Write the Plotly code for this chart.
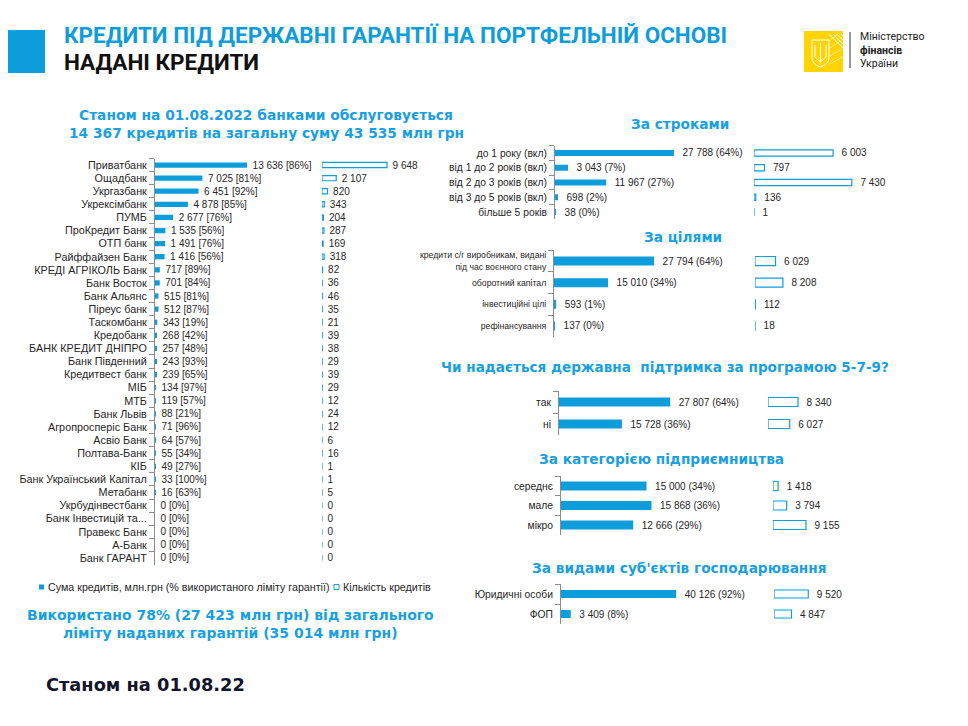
import plotly.graph_objects as go

# page offset (body margin) compensation: figure is placed at (8, 8) in the page
OFF = 8
W, H = 968 - 2 * OFF, 726 - 2 * OFF
BLUE = "#0d9ddb"
TBLUE = "#1a9fe0"
GRAY = "#8c8c8c"
TXT = "#262626"

# ---------------- data ----------------
banks = ["Приватбанк", "Ощадбанк", "Укргазбанк", "Укрексімбанк", "ПУМБ", "ПроКредит Банк",
         "ОТП банк", "Райффайзен Банк", "КРЕДІ АГРІКОЛЬ Банк", "Банк Восток", "Банк Альянс",
         "Піреус банк", "Таскомбанк", "Кредобанк", "БАНК КРЕДИТ ДНІПРО", "Банк Південний",
         "Кредитвест банк", "МІБ", "МТБ", "Банк Львів", "Агропросперіс Банк", "Асвіо Банк",
         "Полтава-Банк", "КІБ", "Банк Український Капітал", "Метабанк", "Укрбудінвестбанк",
         "Банк Інвестицій та...", "Правекс Банк", "А-Банк", "Банк ГАРАНТ"]
bank_sum = [13636, 7025, 6451, 4878, 2677, 1535, 1491, 1416, 717, 701, 515, 512, 343, 268, 257,
            243, 239, 134, 119, 88, 71, 64, 55, 49, 33, 16, 0, 0, 0, 0, 0]
bank_pct = [86, 81, 92, 85, 76, 56, 76, 56, 89, 84, 81, 87, 19, 42, 48, 93, 65, 97, 57, 21, 96,
            57, 34, 27, 100, 63, 0, 0, 0, 0, 0]
bank_cnt = [9648, 2107, 820, 343, 204, 287, 169, 318, 82, 36, 46, 35, 21, 39, 38, 29, 39, 29, 12,
            24, 12, 6, 16, 1, 1, 5, 0, 0, 0, 0, 0]

term_cat = ["до 1 року (вкл)", "від 1 до 2 років (вкл)", "від 2 до 3 років (вкл)",
            "від 3 до 5 років (вкл)", "більше 5 років"]
term_sum = [27788, 3043, 11967, 698, 38]
term_pct = [64, 7, 27, 2, 0]
term_cnt = [6003, 797, 7430, 136, 1]

purpose_cat = ["кредити с/г виробникам, видані<br>під час воєнного стану", "оборотний капітал",
               "інвестиційні цілі", "рефінансування"]
purpose_sum = [27794, 15010, 593, 137]
purpose_pct = [64, 34, 1, 0]
purpose_cnt = [6029, 8208, 112, 18]

support_cat = ["так", "ні"]
support_sum = [27807, 15728]
support_pct = [64, 36]
support_cnt = [8340, 6027]

size_cat = ["середнє", "мале", "мікро"]
size_sum = [15000, 15868, 12666]
size_pct = [34, 36, 29]
size_cnt = [1418, 3794, 9155]

entity_cat = ["Юридичні особи", "ФОП"]
entity_sum = [40126, 3409]
entity_pct = [92, 8]
entity_cnt = [9520, 4847]


def fx(x):
    return (x - OFF) / W


def fy(y):
    return 1 - (y - OFF) / H


def num(v):
    return f"{v:,}".replace(",", " ")


# section layout: (cats, sums, pcts, cnts, brackets, y top/bottom px (page),
#                  sum x-domain px, sum px/unit, count x-domain px, count px/unit, bar width, label size)
sections = [
    (banks, bank_sum, bank_pct, bank_cnt, "[]", (158.5, 564.5), (155, 318), 0.00675, (322, 450), 0.00674, 0.40, 10.8),
    (term_cat, term_sum, term_pct, term_cnt, "()", (145.6, 219.4), (555, 750), 0.00428, (754, 960), 0.01317, 0.42, 10.3),
    (purpose_cat, purpose_sum, purpose_pct, purpose_cnt, "()", (250.2, 336.8), (554, 750), 0.0036, (755, 960), 0.0034, 0.42, 8.7),
    (support_cat, support_sum, support_pct, support_cnt, "()", (391, 435), (559, 763), 0.0040, (768, 960), 0.0036, 0.41, 10.3),
    (size_cat, size_sum, size_pct, size_cnt, "()", (476.25, 534.75), (561, 768), 0.0057, (773, 960), 0.0036, 0.46, 10.3),
    (entity_cat, entity_sum, entity_pct, entity_cnt, "()", (584, 624), (561, 770), 0.00287, (774, 960), 0.0036, 0.40, 10.3),
]

fig = go.Figure()
layout = {}
PAD = "\u00a0\u00a0"

for k, (cats, sums, pcts, cnts, br, (yt, yb), sdom, sscale, cdom, cscale, bw, lsz) in enumerate(sections):
    xs = 2 * k + 1
    xc = 2 * k + 2
    yi = k + 1
    xs_id = "x" if xs == 1 else f"x{xs}"
    xc_id = f"x{xc}"
    y_id = "y" if yi == 1 else f"y{yi}"
    o, c = br[0], br[1]
    stext = [f"{PAD}{num(s)} {o}{p}%{c}" for s, p in zip(sums, pcts)]
    ctext = [f"{PAD}{num(v)}" for v in cnts]
    fig.add_trace(go.Bar(
        y=cats, x=sums, orientation="h", xaxis=xs_id, yaxis=y_id, width=bw,
        marker=dict(color=BLUE, line=dict(width=0)),
        text=stext, textposition="outside", cliponaxis=False, constraintext="none",
        textfont=dict(size=10, color=TXT, family="Liberation Sans"),
        name="Сума кредитів, млн.грн (% використаного ліміту гарантії)", showlegend=False,
        hoverinfo="skip"))
    fig.add_trace(go.Bar(
        y=cats, x=cnts, orientation="h", xaxis=xc_id, yaxis=y_id, width=bw,
        marker=dict(color="white", line=dict(color=BLUE, width=1.2)),
        text=ctext, textposition="outside", cliponaxis=False, constraintext="none",
        textfont=dict(size=10, color=TXT, family="Liberation Sans"),
        name="Кількість кредитів", showlegend=False, hoverinfo="skip"))
    skey = "xaxis" if xs == 1 else f"xaxis{xs}"
    layout[skey] = dict(domain=[fx(sdom[0]), fx(sdom[1])],
                        range=[0, (sdom[1] - sdom[0]) / sscale],
                        anchor=y_id, visible=False, fixedrange=True)
    layout[f"xaxis{xc}"] = dict(domain=[fx(cdom[0]), fx(cdom[1])],
                                range=[0, (cdom[1] - cdom[0]) / cscale],
                                anchor=y_id, visible=False, fixedrange=True)
    ykey = "yaxis" if yi == 1 else f"yaxis{yi}"
    layout[ykey] = dict(domain=[fy(yb), fy(yt)], anchor=xs_id, type="category",
                        categoryorder="array", categoryarray=cats,
                        autorange="reversed", showline=True, linecolor=GRAY, linewidth=1,
                        ticks="outside", tickson="boundaries", ticklen=5, tickcolor=GRAY,
                        tickwidth=1, showgrid=False, zeroline=False, ticklabelstandoff=5,
                        tickfont=dict(size=lsz, color=TXT, family="Liberation Sans"))

shapes = []
ann = []


def text(x, y, s, size, color, bold=True, family="Liberation Sans", xanchor="center"):
    ann.append(dict(x=fx(x), y=fy(y), xref="paper", yref="paper", text=(f"<b>{s}</b>" if bold else s),
                    showarrow=False, xanchor=xanchor, yanchor="middle",
                    font=dict(size=size, color=color, family=family)))


# header
shapes.append(dict(type="rect", xref="paper", yref="paper", x0=0, x1=fx(45), y0=fy(73), y1=fy(30),
                   fillcolor="#0d9ddb", line=dict(width=0)))
text(62, 35.5, "КРЕДИТИ ПІД ДЕРЖАВНІ ГАРАНТІЇ НА ПОРТФЕЛЬНІЙ ОСНОВІ", 22.5, "#0d9ddb",
     family="Roboto", xanchor="left")
text(62, 61.5, "НАДАНІ КРЕДИТИ", 22.5, "#111111", family="Roboto", xanchor="left")

# logo
shapes.append(dict(type="rect", xref="paper", yref="paper", x0=fx(804), x1=fx(843), y0=fy(72), y1=fy(31),
                   fillcolor="#ffd400", line=dict(width=0)))
for d in [0, 4, 8, 12]:
    shapes.append(dict(type="line", xref="paper", yref="paper", x0=fx(829 + d), y0=fy(34),
                       x1=fx(843), y1=fy(34 + (14 - d)), line=dict(color="white", width=1)))
    shapes.append(dict(type="line", xref="paper", yref="paper", x0=fx(830), y0=fy(40 + d * 2),
                       x1=fx(839 + d * 0.3), y1=fy(33 + d * 2), line=dict(color="#fff3b0", width=0.8)))
shield = (f"M {fx(812)},{fy(40)} L {fx(829)},{fy(40)} L {fx(829)},{fy(58)} "
          f"Q {fx(829)},{fy(64)} {fx(820.5)},{fy(67)} Q {fx(812)},{fy(64)} {fx(812)},{fy(58)} Z")
shapes.append(dict(type="path", xref="paper", yref="paper", path=shield,
                   line=dict(color="white", width=1), fillcolor="rgba(0,0,0,0)"))
trident = (f"M {fx(815)},{fy(45)} L {fx(815)},{fy(57)} L {fx(820.5)},{fy(62)} L {fx(826)},{fy(57)} "
           f"L {fx(826)},{fy(45)} M {fx(820.5)},{fy(43)} L {fx(820.5)},{fy(62)}")
shapes.append(dict(type="path", xref="paper", yref="paper", path=trident,
                   line=dict(color="white", width=1)))
shapes.append(dict(type="line", xref="paper", yref="paper", x0=fx(850), x1=fx(850), y0=fy(32), y1=fy(68),
                   line=dict(color="#333333", width=1)))
ann.append(dict(x=fx(858), y=fy(50), xref="paper", yref="paper", showarrow=False,
                xanchor="left", yanchor="middle", align="left",
                text="Міністерство<br><b>фінансів</b><br>України",
                font=dict(size=10.5, color="#222222", family="Roboto")))

# left titles
text(266, 115, "Станом на 01.08.2022 банками обслуговується", 13.8, TBLUE, family="DejaVu Sans")
text(266, 133, "14 367 кредитів на загальну суму 43 535 млн грн", 13.8, TBLUE, family="DejaVu Sans")

# right section titles
text(680, 124, "За строками", 13.7, TBLUE, family="DejaVu Sans")
text(683, 237, "За цілями", 13.7, TBLUE, family="DejaVu Sans")
text(665, 367, "Чи надається державна  підтримка за програмою 5-7-9?", 13.6, TBLUE, family="DejaVu Sans")
text(661, 459, "За категорією підприємництва", 13.7, TBLUE, family="DejaVu Sans")
text(679, 568, "За видами суб'єктів господарювання", 13.7, TBLUE, family="DejaVu Sans")

# legend
shapes.append(dict(type="rect", xref="paper", yref="paper", x0=fx(39), x1=fx(44), y0=fy(589.5), y1=fy(584.5),
                   fillcolor=BLUE, line=dict(width=0)))
text(46, 587, "Сума кредитів, млн.грн (% використаного ліміту гарантії)", 10.7, TXT, bold=False,
     xanchor="left")
shapes.append(dict(type="rect", xref="paper", yref="paper", x0=fx(334), x1=fx(339), y0=fy(589.5), y1=fy(584.5),
                   fillcolor="white", line=dict(color=BLUE, width=1)))
text(341, 587, "Кількість кредитів", 10.7, TXT, bold=False, xanchor="left")

# bottom texts
text(230, 615, "Використано 78% (27 423 млн грн) від загального", 14.0, TBLUE, family="DejaVu Sans")
text(230, 633, "ліміту наданих гарантій (35 014 млн грн)", 14.0, TBLUE, family="DejaVu Sans")
text(44, 684, "Станом на 01.08.22", 17.8, "#14142b", family="DejaVu Sans", xanchor="left")

fig.update_layout(
    width=W, height=H, margin=dict(l=0, r=0, t=0, b=0),
    paper_bgcolor="white", plot_bgcolor="white", showlegend=False,
    barmode="overlay", shapes=shapes, annotations=ann,
    font=dict(family="Liberation Sans", color=TXT),
    **layout)

fig.write_html("out.html")
